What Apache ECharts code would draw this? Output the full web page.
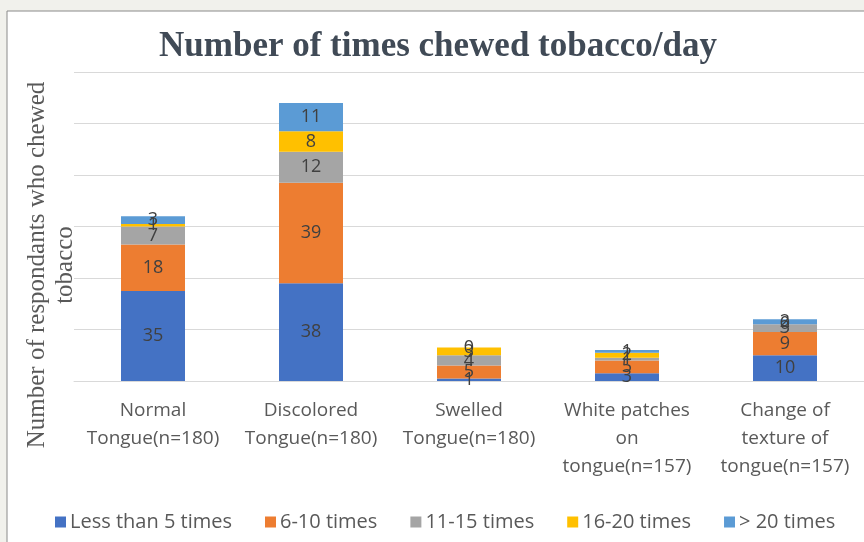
<!DOCTYPE html>
<html>
<head>
<meta charset="utf-8">
<script src="https://cdn.jsdelivr.net/npm/echarts@6/dist/echarts.min.js"></script>
<style>
  html, body { margin: 0; padding: 0; background: #f1f1ec; }
  #chart { width: 864px; height: 542px; }
</style>
</head>
<body>
<div id="chart"></div>
<script>
// Tongue condition groups
const categories = [
  'Normal\nTongue(n=180)',
  'Discolored\nTongue(n=180)',
  'Swelled\nTongue(n=180)',
  'White patches\non\ntongue(n=157)',
  'Change of\ntexture of\ntongue(n=157)'
];

// Respondents per chewing frequency, stacked per group
const lessThan5 = [35, 38, 1, 3, 10];
const times6to10 = [18, 39, 5, 5, 9];
const times11to15 = [7, 12, 4, 1, 3];
const times16to20 = [1, 8, 3, 2, 0];
const over20 = [3, 11, 0, 1, 2];

const seriesNames = ['Less than 5 times', '6-10 times', '11-15 times', '16-20 times', '> 20 times'];
const seriesData = [lessThan5, times6to10, times11to15, times16to20, over20];
const seriesColors = ['#4472C4', '#ED7D31', '#A5A5A5', '#FFC000', '#5B9BD5'];

const labelFont = '"Open Sans", "Liberation Sans", sans-serif';

const chart = echarts.init(document.getElementById('chart'));
chart.setOption({
  backgroundColor: '#f1f1ec',
  animation: false,
  graphic: [
    {
      type: 'rect', z: -10, silent: true,
      shape: { x: 7, y: 11, width: 900, height: 560 },
      style: { fill: '#ffffff', stroke: '#8a8a8a', lineWidth: 1 }
    },
    {
      type: 'text', silent: true,
      x: 438, y: 47,
      style: {
        text: 'Number of times chewed tobacco/day',
        font: 'bold 35px "Liberation Serif", "DejaVu Serif", serif',
        fill: '#404a56',
        align: 'center',
        verticalAlign: 'middle'
      }
    },
    {
      type: 'text', silent: true,
      x: 51, y: 265, rotation: Math.PI / 2,
      style: {
        text: 'Number of respondants who chewed\ntobacco',
        font: '25px "Liberation Serif", "DejaVu Serif", serif',
        fill: '#595959',
        align: 'center',
        verticalAlign: 'middle',
        lineHeight: 28
      }
    }
  ],
  grid: { left: 74, top: 72, width: 800, bottom: 161 },
  legend: {
    left: 50, top: 507,
    itemWidth: 11, itemHeight: 11, itemGap: 33,
    icon: 'rect',
    textStyle: { fontFamily: labelFont, fontSize: 20, color: '#595959', padding: [0, 0, 0, -1] },
    data: seriesNames
  },
  xAxis: {
    type: 'category',
    data: categories,
    axisLine: { show: true, lineStyle: { color: '#d9d9d9' } },
    axisTick: { show: false },
    axisLabel: {
      fontFamily: labelFont, fontSize: 19, color: '#595959',
      lineHeight: 28, margin: 16, interval: 0
    }
  },
  yAxis: {
    type: 'value',
    min: 0, max: 120, interval: 20,
    axisLine: { show: false },
    axisTick: { show: false },
    axisLabel: { show: false },
    splitLine: { lineStyle: { color: '#d9d9d9', width: 1 } }
  },
  series: seriesNames.map((name, i) => ({
    name: name,
    type: 'bar',
    stack: 'total',
    barWidth: 64,
    data: seriesData[i],
    itemStyle: { color: seriesColors[i] },
    label: {
      show: true,
      position: 'inside',
      fontFamily: labelFont,
      fontSize: 18,
      color: '#404040'
    }
  }))
});
</script>
</body>
</html>
